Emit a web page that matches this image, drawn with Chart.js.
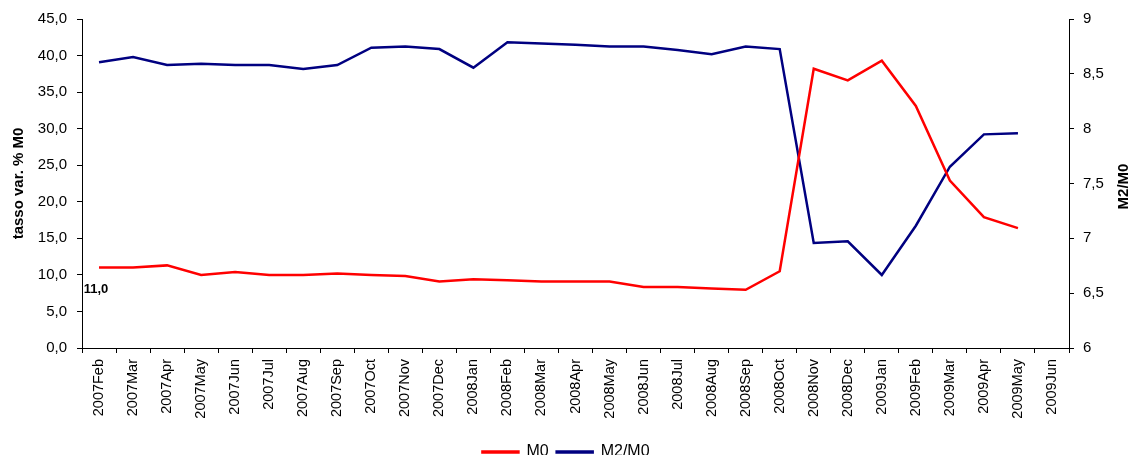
<!DOCTYPE html>
<html>
<head>
<meta charset="utf-8">
<script src="https://cdn.jsdelivr.net/npm/chart.js@4/dist/chart.umd.min.js"></script>
<style>
  html, body { margin: 0; padding: 0; background: #fff; }
  #wrap { width: 1132px; height: 455px; }
</style>
</head>
<body>
<div id="wrap"><canvas id="m0Chart"></canvas></div>
<script>
const months = ['2007Feb', '2007Mar', '2007Apr', '2007May', '2007Jun', '2007Jul', '2007Aug', '2007Sep',
    '2007Oct', '2007Nov', '2007Dec', '2008Jan', '2008Feb', '2008Mar', '2008Apr', '2008May', '2008Jun',
    '2008Jul', '2008Aug', '2008Sep', '2008Oct', '2008Nov', '2008Dec', '2009Jan', '2009Feb', '2009Mar',
    '2009Apr', '2009May', '2009Jun'];
// tasso var. % M0 (left axis)
const m0 = [11.0, 11.0, 11.3, 10.0, 10.4, 10.0, 10.0, 10.2, 10.0, 9.85, 9.1, 9.4, 9.25, 9.1, 9.1, 9.1,
    8.35, 8.35, 8.15, 7.97, 10.5, 38.2, 36.6, 39.3, 33.1, 22.9, 17.9, 16.4, null];
// M2/M0 (right axis)
const m2m0 = [8.605, 8.653, 8.58, 8.593, 8.58, 8.58, 8.544, 8.58, 8.738, 8.75, 8.726, 8.556, 8.787,
    8.776, 8.765, 8.75, 8.75, 8.717, 8.678, 8.75, 8.726, 6.957, 6.973, 6.666, 7.115, 7.653, 7.948, 7.958, null];
const leftTicks = [0, 5, 10, 15, 20, 25, 30, 35, 40, 45];
const rightTicks = [6, 6.5, 7, 7.5, 8, 8.5, 9];

const fontFam = '"Liberation Sans", Arial, sans-serif';
const comma = v => String(v).replace('.', ',');

// first-point value label and right-hand axis title
const extras = {
    id: 'extras',
    afterDraw(chart) {
        const c = chart.ctx;
        const pt = chart.getDatasetMeta(0).data[0];
        c.save();
        c.fillStyle = '#000';
        c.font = 'bold 13px ' + fontFam;
        c.textAlign = 'center';
        c.textBaseline = 'middle';
        c.fillText(m0[0].toFixed(1).replace('.', ','), pt.x - 3, pt.y + 22);
        const area = chart.chartArea;
        c.translate(1124, (area.top + area.bottom) / 2 + 3);
        c.rotate(-Math.PI / 2);
        c.font = 'bold 15px ' + fontFam;
        c.fillText('M2/M0', 0, 0);
        c.restore();
    }
};

const ctx = document.getElementById('m0Chart').getContext('2d');
const m0Chart = new Chart(ctx, {
    type: 'line',
    data: {
        labels: months,
        datasets: [{
            label: 'M0',
            data: m0,
            borderColor: '#ff0000',
            backgroundColor: '#ff0000',
            borderWidth: 2.5,
            pointRadius: 0,
            tension: 0,
            yAxisID: 'y'
        }, {
            label: 'M2/M0',
            data: m2m0,
            borderColor: '#000080',
            backgroundColor: '#000080',
            borderWidth: 2.5,
            pointRadius: 0,
            tension: 0,
            yAxisID: 'y1'
        }]
    },
    options: {
        responsive: true,
        maintainAspectRatio: false,
        animation: false,
        layout: { padding: { top: 19, left: 0, right: 0, bottom: -15 } },
        plugins: {
            legend: {
                display: true,
                position: 'bottom',
                labels: {
                    color: '#000',
                    boxWidth: 36,
                    boxHeight: 1,
                    padding: 8,
                    font: { family: '"Liberation Sans Narrow", ' + fontFam, size: 16 }
                }
            },
            tooltip: { enabled: false }
        },
        scales: {
            x: {
                offset: true,
                grid: { offset: true, drawOnChartArea: false, tickLength: 5, color: '#000' },
                border: { color: '#000', width: 1 },
                ticks: {
                    autoSkip: false, minRotation: 90, maxRotation: 90, padding: 6,
                    color: '#000', font: { family: fontFam, size: 14.5 }
                },
                afterFit: s => { s.height = 88; }
            },
            y: {
                position: 'left',
                min: 0, max: 45,
                afterBuildTicks: s => { s.ticks = leftTicks.map(v => ({ value: v })); },
                grid: { drawOnChartArea: false, tickLength: 5, color: '#000' },
                border: { color: '#000', width: 1 },
                ticks: {
                    color: '#000', padding: 10, font: { family: fontFam, size: 15 },
                    callback: v => v.toFixed(1).replace('.', ',')
                },
                title: {
                    display: true, text: 'tasso var. % M0', color: '#000',
                    font: { family: fontFam, size: 15, weight: 'bold' }, padding: { top: 10, bottom: 0 }
                },
                afterFit: s => { s.width = 82; }
            },
            y1: {
                position: 'right',
                min: 6, max: 9,
                afterBuildTicks: s => { s.ticks = rightTicks.map(v => ({ value: v })); },
                grid: { drawOnChartArea: false, tickLength: 5, color: '#000' },
                border: { color: '#000', width: 1 },
                ticks: {
                    color: '#000', padding: 9, font: { family: fontFam, size: 15 },
                    callback: v => comma(v)
                },
                afterFit: s => { s.width = 63; }
            }
        }
    },
    plugins: [extras]
});
</script>
</body>
</html>
